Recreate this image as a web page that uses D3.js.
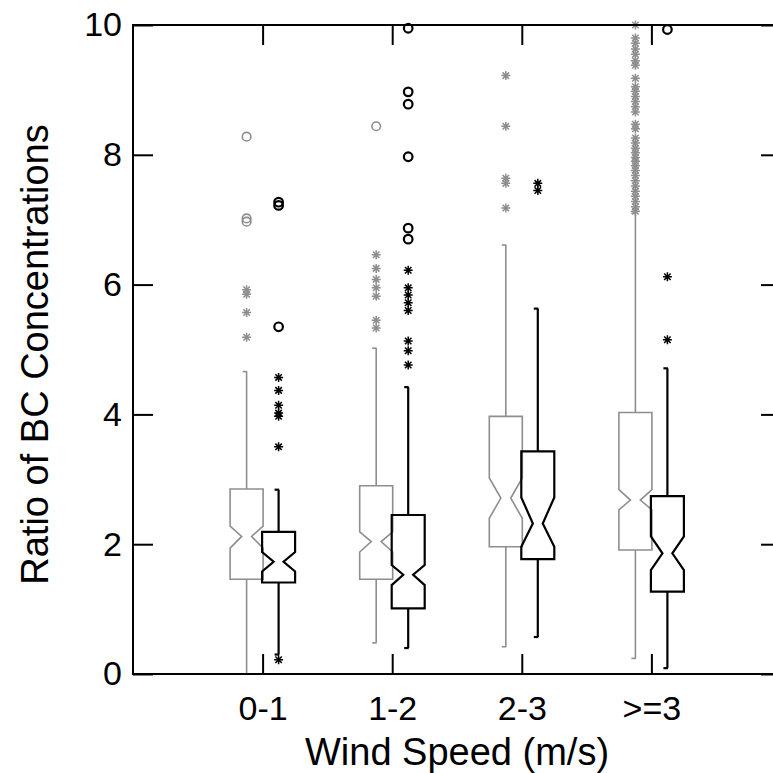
<!DOCTYPE html>
<html><head><meta charset="utf-8">
<script src="https://cdn.jsdelivr.net/npm/d3@7/dist/d3.min.js"></script>
<style>
body{margin:0;background:#fff}
svg{display:block}
text{font-family:"Liberation Sans",Arial,sans-serif;fill:#000}
</style>
</head><body>
<svg id="chart" width="773" height="773"></svg>
<script>
// ---------------- data ----------------
const categories = ["0-1", "1-2", "2-3", ">=3"];
const yTickValues = [0, 2, 4, 6, 8, 10];
const xTitle = "Wind Speed (m/s)";
const yTitle = "Ratio of BC Concentrations";

// grey series (left box in each group)
const greyQ1       = [1.46, 1.46, 1.96, 1.91];
const greyMedian   = [2.12, 2.04, 2.71, 2.68];
const greyQ3       = [2.85, 2.90, 3.97, 4.03];
const greyNotchLo  = [1.94, 1.88, 2.40, 2.53];
const greyNotchHi  = [2.28, 2.19, 3.02, 2.84];
const greyWhiskLo  = [0.00, 0.48, 0.42, 0.24];
const greyWhiskHi  = [4.66, 5.02, 6.61, 7.10];
const greyExtreme  = [[8.28, 7.02, 6.97], [8.44], [], []];
const greyOutliers = [
  [5.92, 5.85, 5.57, 5.19],
  [6.46, 6.25, 6.08, 5.95, 5.82, 5.45, 5.33],
  [9.22, 8.44, 7.64, 7.56, 7.18],
  [10.0, 9.80, 9.72, 9.63, 9.55, 9.45, 9.38, 9.18, 9.05, 8.98, 8.90, 8.82, 8.74, 8.66,
   8.47, 8.40, 8.26, 8.18, 8.10, 8.03, 7.96, 7.90, 7.83, 7.76, 7.68, 7.60, 7.52, 7.44,
   7.36, 7.28, 7.20, 7.13]
];

// black series (right box in each group)
const blackQ1       = [1.41, 1.01, 1.77, 1.27];
const blackMedian   = [1.73, 1.53, 2.32, 1.86];
const blackQ3       = [2.19, 2.45, 3.43, 2.74];
const blackNotchLo  = [1.58, 1.37, 1.96, 1.60];
const blackNotchHi  = [1.88, 1.68, 2.72, 2.12];
const blackWhiskLo  = [0.30, 0.40, 0.57, 0.09];
const blackWhiskHi  = [2.84, 4.42, 5.63, 4.71];
const blackExtreme  = [[7.27, 7.22, 5.35], [9.95, 8.97, 8.78, 7.97, 6.87, 6.70], [], [9.93]];
const blackOutliers = [
  [4.57, 4.37, 4.14, 4.02, 3.97, 3.50, 0.22],
  [6.22, 5.95, 5.84, 5.72, 5.60, 5.13, 4.98, 4.76],
  [7.56, 7.45],
  [6.12, 5.15]
];

// ---------------- drawing ----------------
const svg = d3.select("#chart");
const mLeft = 133, mRight = 781, mTop = 25, mBottom = 674;

const x = d3.scaleLinear().domain([0, 5]).range([mLeft, mRight]);
const y = d3.scaleLinear().domain([0, 10]).range([mBottom, mTop]);

const series = [
  {color: "#8e8e8e", lw: 1.6, offset: -16,
   q1: greyQ1, med: greyMedian, q3: greyQ3, nlo: greyNotchLo, nhi: greyNotchHi,
   wlo: greyWhiskLo, whi: greyWhiskHi, ext: greyExtreme, out: greyOutliers},
  {color: "#000000", lw: 2.2, offset: 16,
   q1: blackQ1, med: blackMedian, q3: blackQ3, nlo: blackNotchLo, nhi: blackNotchHi,
   wlo: blackWhiskLo, whi: blackWhiskHi, ext: blackExtreme, out: blackOutliers}
];

const halfW = 16.5, k = 0.3;

series.forEach(s => {
  const g = svg.append("g");
  categories.forEach((c, i) => {
    const cx = x(i + 1) + s.offset;
    g.append("line").attr("x1", cx).attr("x2", cx).attr("y1", y(s.q3[i])).attr("y2", y(s.whi[i]))
      .attr("stroke", s.color).attr("stroke-width", s.lw);
    g.append("line").attr("x1", cx).attr("x2", cx).attr("y1", y(s.q1[i])).attr("y2", y(s.wlo[i]))
      .attr("stroke", s.color).attr("stroke-width", s.lw);
    [s.whi[i], s.wlo[i]].forEach(v => {
      g.append("line").attr("x1", cx - 4).attr("x2", cx + 0.5).attr("y1", y(v)).attr("y2", y(v))
        .attr("stroke", s.color).attr("stroke-width", s.lw);
    });
    const pts = [
      [cx - halfW, y(s.q3[i])], [cx + halfW, y(s.q3[i])],
      [cx + halfW, y(s.nhi[i])], [cx + halfW * k, y(s.med[i])], [cx + halfW, y(s.nlo[i])],
      [cx + halfW, y(s.q1[i])], [cx - halfW, y(s.q1[i])],
      [cx - halfW, y(s.nlo[i])], [cx - halfW * k, y(s.med[i])], [cx - halfW, y(s.nhi[i])]
    ];
    g.append("path").attr("d", d3.line()(pts) + "Z")
      .attr("fill", "none").attr("stroke", s.color).attr("stroke-width", s.lw)
      .attr("stroke-linejoin", "miter");
    s.ext[i].forEach(v => {
      g.append("circle").attr("cx", cx).attr("cy", y(v)).attr("r", 4.3)
        .attr("fill", "none").attr("stroke", s.color).attr("stroke-width", s.lw);
    });
    const r = 4.5, d = r * 0.72;
    s.out[i].forEach(v => {
      g.append("path")
        .attr("transform", `translate(${cx},${y(v)})`)
        .attr("d", `M${-r},0H${r}M0,${-r}V${r}M${-d},${-d}L${d},${d}M${-d},${d}L${d},${-d}`)
        .attr("fill", "none").attr("stroke", s.color).attr("stroke-width", 1.5);
    });
  });
});

// ---------------- axes ----------------
const tickLen = 20;
const axisL = d3.axisLeft(y).tickValues(yTickValues).tickSize(-tickLen).tickSizeOuter(0).tickPadding(11);
const axisR = d3.axisRight(y).tickValues(yTickValues).tickSize(-tickLen).tickSizeOuter(0).tickFormat("");
const axisB = d3.axisBottom(x).tickValues([1, 2, 3, 4]).tickSize(-tickLen).tickSizeOuter(0)
  .tickFormat(d => categories[d - 1]);
const axisT = d3.axisTop(x).tickValues([1, 2, 3, 4]).tickSize(-tickLen).tickSizeOuter(0).tickFormat("");

function styleAxis(g) {
  g.select(".domain").remove();
  g.selectAll(".tick line").attr("stroke", "#000").attr("stroke-width", 2);
  g.selectAll("text").style("font-size", "34px").attr("fill", "#000");
}
svg.append("g").attr("transform", `translate(${mLeft},0)`).call(axisL).call(styleAxis);
svg.append("g").attr("transform", `translate(${mRight},0)`).call(axisR).call(styleAxis);
const gb = svg.append("g").attr("transform", `translate(0,${mBottom})`).call(axisB).call(styleAxis);
gb.selectAll("text").attr("y", 46).attr("dy", 0);
svg.append("g").attr("transform", `translate(0,${mTop})`).call(axisT).call(styleAxis);

svg.append("rect").attr("x", mLeft).attr("y", mTop).attr("width", mRight - mLeft).attr("height", mBottom - mTop)
  .attr("fill", "none").attr("stroke", "#000").attr("stroke-width", 2);

svg.append("text").attr("x", (mLeft + mRight) / 2).attr("y", 765).attr("text-anchor", "middle")
  .style("font-size", "38px").text(xTitle);
svg.append("text").attr("transform", `translate(48,${(mTop + mBottom) / 2 + 5}) rotate(-90)`)
  .attr("text-anchor", "middle").style("font-size", "38px").text(yTitle);
</script>
</body></html>
